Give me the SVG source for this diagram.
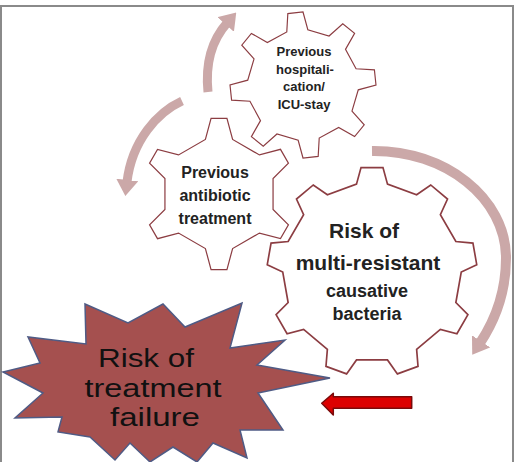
<svg xmlns="http://www.w3.org/2000/svg" xmlns:xlink="http://www.w3.org/1999/xlink" width="521" height="462" viewBox="0 0 521 462">
<style>
.gear{fill:#ffffff;stroke:#8c3d42;stroke-width:1.6;stroke-linejoin:miter;vector-effect:non-scaling-stroke}
.gt{font-family:"Liberation Sans",Arial,sans-serif;font-weight:bold;fill:#222;text-anchor:middle}
.arc{fill:none;stroke:#cba8a8;stroke-linecap:butt}
.st{font-family:"Comic Sans MS","Liberation Sans",sans-serif;fill:#111;text-anchor:middle;font-size:25px}
</style>
<defs>
<path id="g9" d="M-14.76,-83.71 L-10.45,-99.45 L10.45,-99.45 L14.76,-83.71 L42.5,-73.61 L55.92,-82.90 L71.93,-69.47 L65.11,-54.64 L79.87,-29.07 L96.13,-27.56 L99.76,-6.98 L85,0 L79.87,29.07 L91.35,40.67 L80.90,58.78 L65.11,54.64 L42.5,73.61 L43.84,89.88 L24.19,97.03 L14.76,83.71 L-14.76,83.71 L-24.19,97.03 L-43.84,89.88 L-42.5,73.61 L-65.11,54.64 L-80.90,58.78 L-91.35,40.67 L-79.87,29.07 L-85,0 L-99.76,-6.98 L-96.13,-27.56 L-79.87,-29.07 L-65.11,-54.64 L-71.93,-69.47 L-55.92,-82.90 L-42.5,-73.61 Z"/>
<path id="g8" d="M-14.50,-74.60 L-10.45,-99.45 L10.45,-99.45 L14.50,-74.60 L42.50,-63.00 L62.93,-77.71 L77.71,-62.93 L63.00,-42.50 L74.60,-14.50 L99.45,-10.45 L99.45,10.45 L74.60,14.50 L63.00,42.50 L77.71,62.93 L62.93,77.71 L42.50,63.00 L14.50,74.60 L10.45,99.45 L-10.45,99.45 L-14.50,74.60 L-42.50,63.00 L-62.93,77.71 L-77.71,62.93 L-63.00,42.50 L-74.60,14.50 L-99.45,10.45 L-99.45,-10.45 L-74.60,-14.50 L-63.00,-42.50 L-77.71,-62.93 L-62.93,-77.71 L-42.50,-63.00 Z"/>
<path id="g6" d="M-17.90,-71.80 L-10.45,-99.45 L10.45,-99.45 L17.90,-71.80 L53.23,-51.40 L80.90,-58.78 L91.35,-40.68 L71.13,-20.40 L71.13,20.40 L91.35,40.67 L80.91,58.77 L53.24,51.40 L17.90,71.80 L10.45,99.45 L-10.45,99.45 L-17.90,71.80 L-53.23,51.40 L-80.90,58.78 L-91.35,40.68 L-71.13,20.40 L-71.13,-20.40 L-91.35,-40.67 L-80.91,-58.77 L-53.24,-51.40 Z"/>
<marker id="ah" viewBox="0 0 16 22" refX="2" refY="11" markerWidth="16" markerHeight="22" markerUnits="userSpaceOnUse" orient="auto">
<path d="M0,0 L16,11 L0,22 Z" fill="#cba8a8"/>
</marker>
</defs>
<rect x="0" y="0" width="521" height="462" fill="#ffffff"/>
<rect x="1" y="6" width="512" height="470" fill="none" stroke="#8a8a8a" stroke-width="2"/>
<g id="connectors">
<path class="arc" stroke-width="9" d="M208,92 C205,62 212,40 227,23" marker-end="url(#ah)"/>
<path class="arc" stroke-width="9" d="M182,101 C158,112 132,140 127,182" marker-end="url(#ah)"/>
<path class="arc" stroke-width="10" d="M372,151 C445,150 506,198 506,258 C506,295 494,322 480,343" marker-end="url(#ah)"/>
<path id="red-arrow" d="M321.7,403.3 L333.3,393.3 L333.3,396.7 L411.7,396.7 L411.7,408.3 L333.3,408.3 L333.3,415 Z" fill="#dd0000" stroke="#7a0a0a" stroke-width="1.5" stroke-linejoin="round"/>
</g>
<g id="gear-hospital">
<use xlink:href="#g8" class="gear" transform="translate(303,85) rotate(-6) scale(0.73)"/>
<text class="gt" font-size="13" x="304" y="56">Previous</text>
<text class="gt" font-size="13" x="305" y="74">hospitali-</text>
<text class="gt" font-size="13" x="304" y="91">cation/</text>
<text class="gt" font-size="13" x="304" y="109">ICU-stay</text>
</g>
<g id="gear-antibiotic">
<use xlink:href="#g6" class="gear" transform="translate(219,194) scale(0.76)"/>
<text class="gt" font-size="16" x="215" y="178">Previous</text>
<text class="gt" font-size="16" x="215" y="201">antibiotic</text>
<text class="gt" font-size="16" x="215" y="224">treatment</text>
</g>
<g id="gear-resistant">
<use xlink:href="#g9" class="gear" transform="translate(372,272) scale(1.05)"/>
<text class="gt" font-size="21" x="364" y="238">Risk of</text>
<text class="gt" font-size="21" x="368" y="270">multi-resistant</text>
<text class="gt" font-size="18" x="367" y="297">causative</text>
<text class="gt" font-size="18" x="367" y="320">bacteria</text>
</g>
<g id="treatment-failure">
<polygon points="85,304 128,323 163,304 185,327 242,303 230,348 285,340 257,365 330,378 258,393 283,430 240,430 247,458 213,443 197,462 173,447 150,462 130,443 115,460 90,437 58,432 62,417 15,418 43,393 3,372 40,363 28,337 86,344" fill="#a5504f" stroke="#4f5b85" stroke-width="1.5" stroke-linejoin="miter"/>
<text class="st" x="146" y="367" textLength="96" lengthAdjust="spacingAndGlyphs">Risk of</text>
<text class="st" x="153" y="396.5" textLength="137" lengthAdjust="spacingAndGlyphs">treatment</text>
<text class="st" x="155" y="426" textLength="90" lengthAdjust="spacingAndGlyphs">failure</text>
</g>
</svg>
